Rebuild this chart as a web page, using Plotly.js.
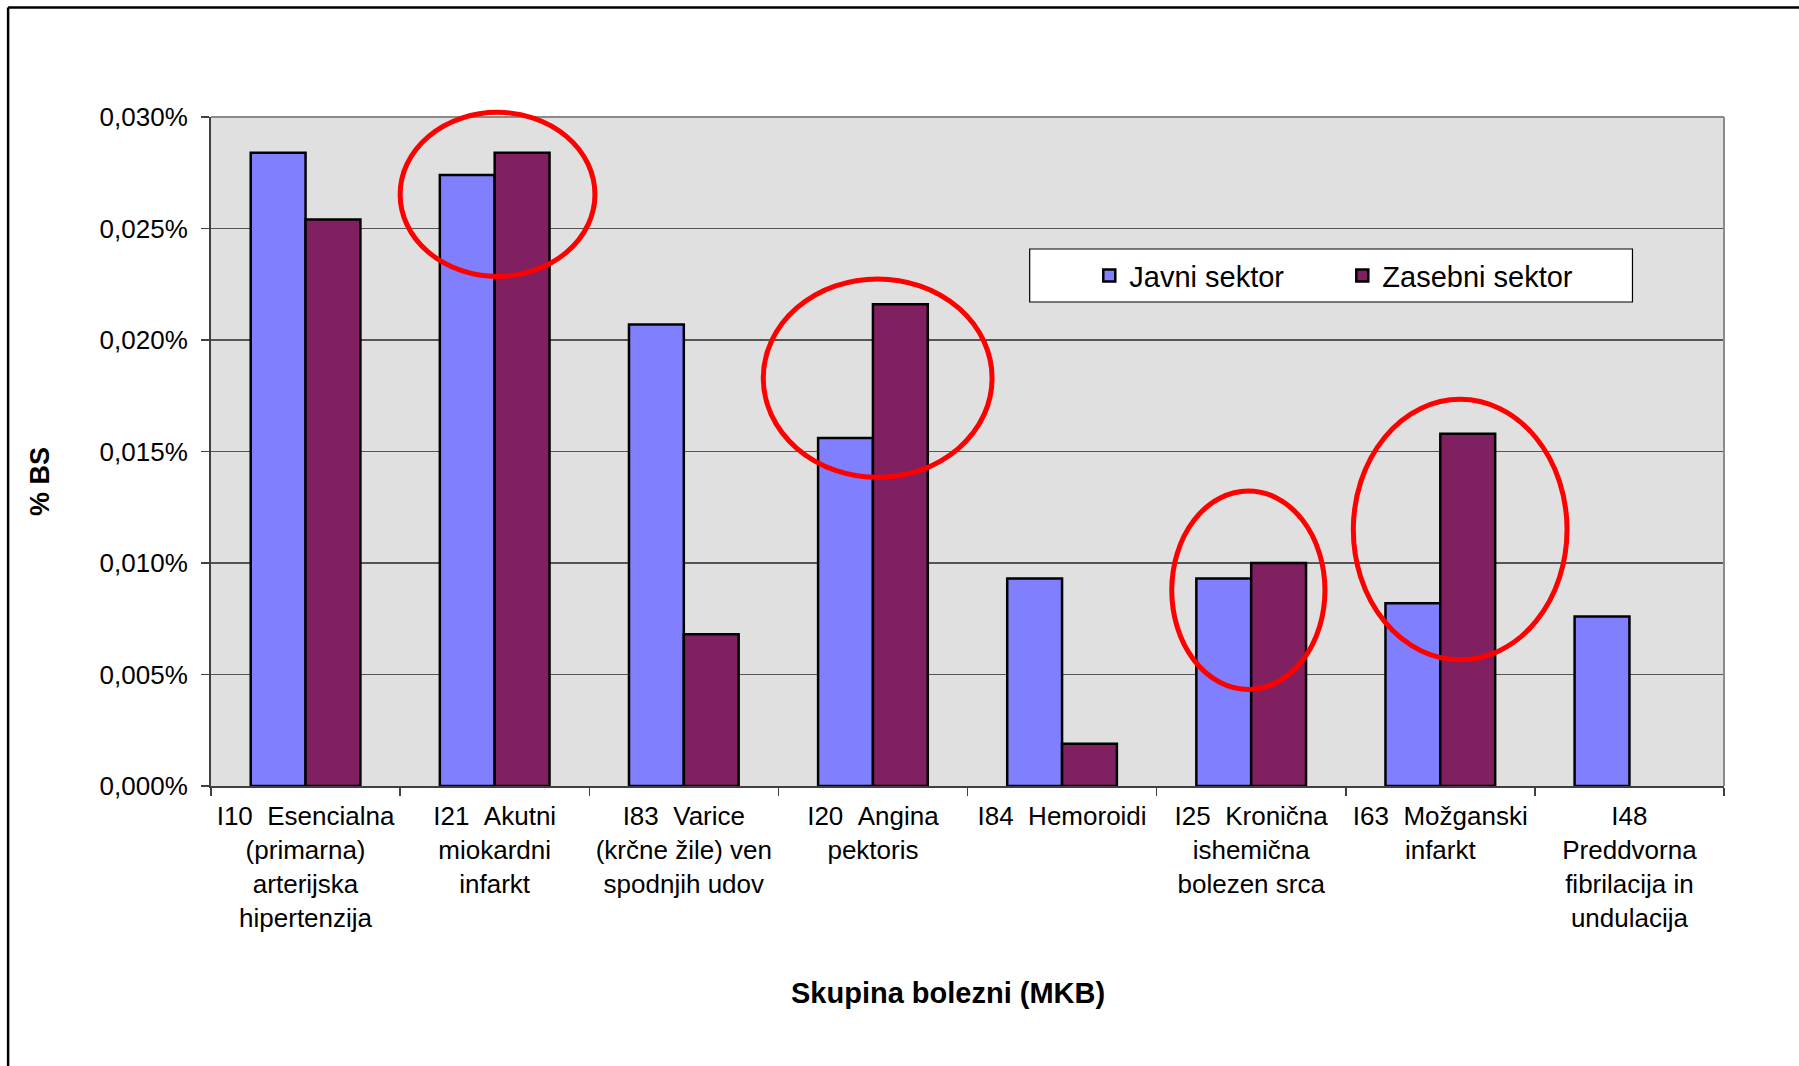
<!DOCTYPE html>
<html>
<head>
<meta charset="utf-8">
<script src="https://cdn.plot.ly/plotly-3.0.1.min.js"></script>
<style>
  html, body { margin: 0; padding: 0; background: #ffffff; }
  #chart { width: 1799px; height: 1066px; }
</style>
</head>
<body>
<div id="chart"></div>
<script>
// ---- data ----
const categories = [
  "I10\u00a0\u00a0Esencialna<br>(primarna)<br>arterijska<br>hipertenzija",
  "I21\u00a0\u00a0Akutni<br>miokardni<br>infarkt",
  "I83\u00a0\u00a0Varice<br>(krčne žile) ven<br>spodnjih udov",
  "I20\u00a0\u00a0Angina<br>pektoris",
  "I84\u00a0\u00a0Hemoroidi",
  "I25\u00a0\u00a0Kronična<br>ishemična<br>bolezen srca",
  "I63\u00a0\u00a0Možganski<br>infarkt",
  "I48<br>Preddvorna<br>fibrilacija in<br>undulacija"
];
const seriesNames = ["Javni sektor", "Zasebni sektor"];
const javni    = [0.0284, 0.0274, 0.0207, 0.0156, 0.0093, 0.0093, 0.0082, 0.0076];
const zasebni  = [0.0254, 0.0284, 0.0068, 0.0216, 0.0019, 0.0100, 0.0158, null];
const yTitle = "% BS";
const xTitle = "Skupina bolezni (MKB)";

// highlighted groups (category index) – red ellipses
const highlightCats = [1, 3, 5, 6];

// ---- styling ----
const FONT = "Liberation Sans, Arial, Helvetica, sans-serif";
const Y_MAX = 0.03;
const X_MIN = -0.5, X_MAX = categories.length - 0.5;
const px = i => (i - X_MIN) / (X_MAX - X_MIN);   // category index -> paper x
const py = v => v / Y_MAX;                        // value -> paper y

// ellipse extents relative to the highlighted group (category units / value units)
const ellipseStyle = [
  {dx0: -0.50, dx1: 0.53, y0: 0.02285, y1: 0.03021},
  {dx0: -0.58, dx1: 0.63, y0: 0.01384, y1: 0.02274},
  {dx0: -0.42, dx1: 0.39, y0: 0.00433, y1: 0.01323},
  {dx0: -0.46, dx1: 0.67, y0: 0.00566, y1: 0.01734}
];

const traces = [
  {
    type: "bar", name: seriesNames[0], x: categories, y: javni,
    marker: {color: "#8080FF", line: {color: "#000000", width: 2.5}},
    hoverinfo: "skip"
  },
  {
    type: "bar", name: seriesNames[1], x: categories, y: zasebni,
    marker: {color: "#802060", line: {color: "#000000", width: 2.5}},
    hoverinfo: "skip"
  }
];

const shapes = [];
// legend box
shapes.push({type: "rect", xref: "paper", yref: "paper",
  x0: 0.5411, x1: 0.9395, y0: 0.7235, y1: 0.8027,
  fillcolor: "#ffffff", line: {color: "#000000", width: 1.2}, layer: "above"});
// plot-area top and right border (grey)
shapes.push({type: "line", xref: "paper", yref: "paper", x0: 0, x1: 1, y0: 1, y1: 1,
  line: {color: "#8a8a8a", width: 2}});
shapes.push({type: "line", xref: "paper", yref: "paper", x0: 1, x1: 1, y0: 0, y1: 1,
  line: {color: "#8a8a8a", width: 2}});
// outer chart frame (top + left edges visible)
shapes.push({type: "line", xref: "paper", yref: "paper", x0: -0.1341, x1: 1.2, y0: 1.1637, y1: 1.1637,
  line: {color: "#000000", width: 2.5}});
shapes.push({type: "line", xref: "paper", yref: "paper", x0: -0.1341, x1: -0.1341, y0: -0.6, y1: 1.1637,
  line: {color: "#000000", width: 2.5}});
// red ellipses
highlightCats.forEach((c, k) => {
  const e = ellipseStyle[k];
  shapes.push({type: "circle", xref: "paper", yref: "paper",
    x0: px(c + e.dx0), x1: px(c + e.dx1), y0: py(e.y0), y1: py(e.y1),
    line: {color: "#FF0000", width: 5}, fillcolor: "rgba(0,0,0,0)", layer: "above"});
});

const layout = {
  width: 1799, height: 1066,
  margin: {l: 211, r: 75, t: 117, b: 280, pad: 0},
  paper_bgcolor: "#ffffff",
  plot_bgcolor: "#E0E0E0",
  font: {family: FONT, size: 26, color: "#000000"},
  separators: ",.",
  barmode: "group",
  bargap: 0.42,
  bargroupgap: 0,
  showlegend: true,
  legend: {
    orientation: "h",
    x: 0.5805, xanchor: "left",
    y: 0.763, yanchor: "middle",
    bgcolor: "rgba(0,0,0,0)",
    borderwidth: 0,
    font: {family: FONT, size: 29, color: "#000000"},
    entrywidth: 208, entrywidthmode: "pixels",
    traceorder: "normal"
  },
  xaxis: {
    type: "category",
    range: [X_MIN, X_MAX],
    tickson: "boundaries",
    ticks: "outside", ticklen: 8, tickwidth: 1.5, tickcolor: "#404040",
    showline: true, linecolor: "#404040", linewidth: 2,
    showgrid: false, zeroline: false,
    tickfont: {family: FONT, size: 26, color: "#000000"},
    ticklabelstandoff: 6,
    automargin: false,
    fixedrange: true
  },
  yaxis: {
    range: [0, Y_MAX],
    dtick: 0.005, tick0: 0,
    tickformat: ".3f", ticksuffix: "%",
    ticks: "outside", ticklen: 8, tickwidth: 1.5, tickcolor: "#404040",
    showline: true, linecolor: "#404040", linewidth: 2,
    showgrid: true, gridcolor: "#555555", gridwidth: 1.5,
    zeroline: false,
    tickfont: {family: FONT, size: 26, color: "#000000"},
    ticklabelstandoff: 8,
    automargin: false,
    fixedrange: true
  },
  shapes: shapes,
  annotations: [
    {text: "<b>" + yTitle + "</b>", xref: "paper", yref: "paper",
     x: -0.113, y: 0.4544, xanchor: "center", yanchor: "middle",
     textangle: -90, showarrow: false, font: {family: FONT, size: 27, color: "#000000"}},
    {text: "<b>" + xTitle + "</b>", xref: "paper", yref: "paper",
     x: 0.487, y: -0.3094, xanchor: "center", yanchor: "middle",
     showarrow: false, font: {family: FONT, size: 29, color: "#000000"}}
  ]
};

Plotly.newPlot("chart", traces, layout, {staticPlot: true, displayModeBar: false});
</script>
</body>
</html>
